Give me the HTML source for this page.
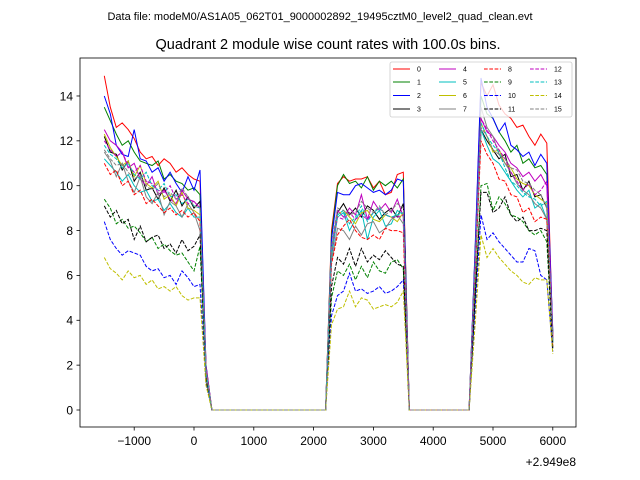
<!DOCTYPE html>
<html><head><meta charset="utf-8">
<style>
html,body{margin:0;padding:0;background:#fff;}
svg{display:block;font-family:"Liberation Sans","DejaVu Sans",sans-serif;}
</style></head>
<body>
<svg id="chart" width="640" height="480" viewBox="0 0 640 480">
<text x="320" y="20" font-size="11" text-anchor="middle">Data file: modeM0/AS1A05_062T01_9000002892_19495cztM0_level2_quad_clean.evt</text>
<text x="328" y="49" font-size="14.5" text-anchor="middle">Quadrant 2 module wise count rates with 100.0s bins.</text>
<g id="series"></g>
<rect x="80" y="58" width="496" height="369" fill="none" stroke="#000" stroke-width="0.8"/>
<g id="xaxis"></g>
<g id="yaxis"></g>
<text x="576" y="466" font-size="12" text-anchor="end">+2.949e8</text>
<g id="legend"></g>
</svg>
<script>
const Z20=[0,0,0,0,0,0,0,0,0,0,0,0,0,0,0,0,0,0,0,0];
const Z11=[0,0,0,0,0,0,0,0,0,0,0];
const xTicks=[-1000,0,1000,2000,3000,4000,5000,6000];
const xTickLabels=["\u22121000","0","1000","2000","3000","4000","5000","6000"];
const yTicks=[0,2,4,6,8,10,12,14];
const seriesNames=["0","1","2","3","4","5","6","7","8","9","10","11","12","13","14","15"];
const colors=["#ff0000","#008000","#0000ff","#000000","#bf00bf","#00bfbf","#bfbf00","#808080","#ff0000","#008000","#0000ff","#000000","#bf00bf","#00bfbf","#bfbf00","#808080"];
const seg1=[
[14.9,13.5,12.6,12.8,12.5,12.1,11.5,11.2,11.3,10.9,11.2,11.0,10.6,10.8,10.5,10.3,10.2],
[13.5,12.9,12.3,11.8,12.0,11.5,11.1,11.0,10.9,11.1,10.3,10.5,10.2,10.1,9.8,9.9,9.6],
[14.0,13.2,11.8,11.4,11.3,12.5,11.2,11.1,10.6,10.8,10.2,10.6,10.1,9.7,10.4,9.8,10.7],
[12.2,11.5,11.4,10.7,11.1,10.2,10.6,9.8,9.9,9.4,9.9,9.3,9.8,9.1,9.5,9.0,9.3],
[12.5,12.0,11.8,11.5,10.8,11.0,10.3,10.0,10.4,9.6,9.8,9.4,9.2,9.8,9.4,9.3,9.0],
[11.2,10.9,10.6,10.2,10.5,10.0,9.7,9.8,9.3,9.4,8.9,9.2,8.8,8.6,9.0,8.6,8.6],
[12.3,11.7,11.3,10.9,11.1,10.4,10.9,10.1,9.9,10.2,9.4,9.6,9.1,9.7,9.0,8.9,8.7],
[11.5,11.1,10.4,11.0,10.2,9.7,10.4,9.5,9.2,9.7,8.7,9.3,9.1,8.6,9.2,8.8,8.0],
[11.0,10.5,10.7,10.0,10.2,9.6,9.8,9.2,9.4,9.1,8.8,9.0,8.7,8.9,8.6,8.8,8.4],
[9.4,9.0,8.3,8.5,8.1,8.2,7.9,7.5,7.7,7.2,7.4,7.1,6.9,7.0,6.6,6.2,7.3],
[8.4,7.6,7.2,6.9,7.1,7.0,6.9,6.4,6.2,6.3,5.9,6.0,5.6,6.2,5.9,5.5,5.6],
[9.1,8.6,8.9,8.3,8.5,7.6,8.2,7.5,7.7,7.8,7.2,7.4,7.0,7.6,7.1,7.3,7.8],
[12.0,11.6,11.3,11.5,10.9,10.6,10.9,10.2,10.1,9.8,9.7,10.0,9.4,9.6,9.2,9.3,9.0],
[11.8,11.4,11.2,10.8,11.0,10.5,10.3,10.6,10.0,9.8,10.1,9.5,9.6,9.2,9.4,9.1,9.0],
[6.8,6.3,6.1,5.8,6.2,5.9,6.0,5.6,5.8,5.4,5.5,5.3,5.5,5.1,4.9,5.0,5.0],
[11.6,11.2,10.9,11.0,10.6,10.3,10.5,10.0,9.8,10.1,9.5,9.7,9.4,9.9,9.5,9.1,9.0]];
const v200=[2.0,1.8,2.0,1.6,1.9,1.7,1.8,1.6,1.7,1.3,1.2,1.4,1.8,1.7,1.1,1.7];
const seg2=[
[8.0,10.1,10.4,10.2,10.3,10.3,10.4,9.9,10.2,9.6,9.7,10.5,10.6],
[7.8,10.0,10.5,10.1,10.2,9.9,10.4,9.8,10.2,10.0,10.2,9.9,10.3],
[7.6,9.7,9.6,9.6,10.0,10.1,9.9,9.7,9.8,9.6,9.8,10.3,10.2],
[7.0,8.8,9.2,8.7,9.0,8.6,9.1,8.9,8.5,8.8,9.0,8.6,9.2],
[7.2,8.9,8.6,9.0,8.7,9.6,8.5,9.3,8.9,9.2,8.8,9.4,8.6],
[6.8,8.6,8.8,8.0,8.5,8.9,7.6,8.6,8.9,8.2,8.3,8.9,8.7],
[7.0,8.7,8.9,8.6,8.3,8.8,8.9,8.5,8.4,8.7,8.6,8.4,8.8],
[6.6,8.1,8.0,7.6,8.2,7.8,8.3,8.4,7.9,8.1,8.5,8.7,8.3],
[6.5,7.8,8.2,8.5,8.0,7.7,7.6,7.8,7.6,8.1,8.0,8.0,7.9],
[5.0,6.2,6.0,6.5,5.8,6.4,5.9,6.6,6.2,6.1,6.6,6.7,6.3],
[4.2,5.1,5.3,6.1,5.3,5.4,5.2,5.3,5.5,5.2,5.3,5.5,5.8],
[5.5,6.8,6.5,7.2,6.4,7.2,6.6,6.9,6.7,7.1,6.8,6.5,6.4],
[7.0,8.6,8.5,8.8,8.5,8.7,8.5,8.8,9.0,8.7,8.6,8.6,8.7],
[7.1,8.7,8.9,8.3,8.6,9.1,8.4,8.8,9.0,8.7,8.6,8.7,8.8],
[3.8,4.5,4.6,5.3,4.6,5.0,4.9,4.5,4.6,4.7,4.6,4.8,5.3],
[7.3,9.0,8.9,8.7,8.8,9.3,9.0,8.8,9.1,8.7,8.9,9.2,9.0]];
const seg3=[
[7.0,14.6,14.0,14.5,13.6,13.2,13.0,12.6,12.7,12.2,11.8,12.3,11.9,3.2],
[7.0,14.0,13.2,13.0,12.4,12.0,11.5,11.8,11.0,11.2,10.8,10.9,10.5,3.4],
[7.2,14.8,13.5,13.0,12.4,12.8,11.8,11.6,11.3,11.5,10.9,11.4,11.0,3.5],
[6.0,12.5,12.0,11.6,11.2,11.4,10.4,10.5,9.8,10.2,9.5,9.6,9.0,3.0],
[6.4,13.0,12.4,12.2,11.8,11.5,11.0,10.8,10.4,10.6,10.2,10.5,10.0,3.3],
[6.2,12.5,11.8,11.2,11.0,10.6,10.2,9.8,9.5,9.8,9.0,9.2,8.5,3.0],
[6.3,12.8,12.2,11.5,11.6,11.0,10.8,10.3,10.1,10.0,9.6,9.4,9.2,3.1],
[6.6,13.5,12.6,12.2,11.4,11.0,10.6,10.1,9.8,9.6,9.2,9.0,8.5,3.1],
[6.0,12.0,11.4,11.0,10.3,10.2,9.6,9.5,8.8,9.0,8.4,8.6,8.5,2.8],
[5.0,10.0,10.1,8.9,9.5,9.2,8.7,8.6,8.4,8.0,7.8,8.0,7.5,2.7],
[4.5,8.7,7.6,7.9,7.5,7.2,6.9,6.6,6.6,7.2,7.1,6.0,5.8,2.6],
[5.0,9.7,9.7,8.8,9.0,9.5,8.7,8.4,8.6,8.0,8.0,8.1,8.0,2.7],
[6.5,13.0,12.5,12.0,11.6,11.2,10.6,10.2,9.8,10.1,9.6,9.8,10.2,3.2],
[6.4,12.8,12.2,11.8,11.5,10.8,10.2,10.0,9.7,9.5,9.4,9.1,9.3,3.1],
[3.8,7.8,6.8,7.2,6.8,6.5,6.2,6.0,5.7,5.6,5.9,5.8,5.8,2.5],
[6.3,12.6,12.2,11.6,11.4,11.2,10.8,10.7,10.2,10.1,9.8,9.6,9.0,3.0]];

const NS="http://www.w3.org/2000/svg";
function xs(t){return 194+(t)*0.0598;}
function ys(v){return 410-v*22.43;}
const times=[];
for(let t=-1500;t<=6000;t+=100)times.push(t);
const sg=document.getElementById('series');
for(let i=0;i<16;i++){
  const vals=seg1[i].concat([v200[i]],Z20,seg2[i],Z11,seg3[i]);
  const pts=vals.map((v,k)=>xs(times[k]).toFixed(1)+','+ys(v).toFixed(1)).join(' ');
  const pl=document.createElementNS(NS,'polyline');
  pl.setAttribute('points',pts);
  pl.setAttribute('fill','none');
  pl.setAttribute('stroke',colors[i]);
  pl.setAttribute('stroke-width','1');
  if(i>=8)pl.setAttribute('stroke-dasharray','3.7,1.6');
  
  
  sg.appendChild(pl);
}
const xa=document.getElementById('xaxis');
xTicks.forEach((t,k)=>{
  const x=xs(t);
  const l=document.createElementNS(NS,'line');
  l.setAttribute('x1',x);l.setAttribute('x2',x);l.setAttribute('y1',427);l.setAttribute('y2',430.5);
  l.setAttribute('stroke','#000');l.setAttribute('stroke-width','0.8');
  
  
  xa.appendChild(l);
  const tx=document.createElementNS(NS,'text');
  tx.setAttribute('x',x);tx.setAttribute('y',445);tx.setAttribute('font-size','12');tx.setAttribute('text-anchor','middle');
  tx.textContent=xTickLabels[k];
  
  
  xa.appendChild(tx);
});
const ya=document.getElementById('yaxis');
yTicks.forEach(v=>{
  const y=ys(v);
  const l=document.createElementNS(NS,'line');
  l.setAttribute('x1',76.5);l.setAttribute('x2',80);l.setAttribute('y1',y);l.setAttribute('y2',y);
  l.setAttribute('stroke','#000');l.setAttribute('stroke-width','0.8');
  
  
  ya.appendChild(l);
  const tx=document.createElementNS(NS,'text');
  tx.setAttribute('x',73);tx.setAttribute('y',y+4.3);tx.setAttribute('font-size','12');tx.setAttribute('text-anchor','end');
  tx.textContent=String(v);
  
  
  ya.appendChild(tx);
});
const lg=document.getElementById('legend');
const box=document.createElementNS(NS,'rect');
box.setAttribute('x',390);box.setAttribute('y',62);box.setAttribute('width',182);box.setAttribute('height',55);
box.setAttribute('rx',2);box.setAttribute('fill','#fff');box.setAttribute('fill-opacity','0.8');
box.setAttribute('stroke','#ccc');box.setAttribute('stroke-width','0.8');


lg.appendChild(box);
const colX=[393,439,484,530];
const rowY=[69,82,95.5,109];
for(let i=0;i<16;i++){
  const c=Math.floor(i/4),r=i%4;
  const l=document.createElementNS(NS,'line');
  l.setAttribute('x1',colX[c]);l.setAttribute('x2',colX[c]+17);l.setAttribute('y1',rowY[r]);l.setAttribute('y2',rowY[r]);
  l.setAttribute('stroke',colors[i]);l.setAttribute('stroke-width','1');
  if(i>=8)l.setAttribute('stroke-dasharray','3.7,1.6');
  
  
  lg.appendChild(l);
  const tx=document.createElementNS(NS,'text');
  tx.setAttribute('x',colX[c]+24);tx.setAttribute('y',rowY[r]+2.5);tx.setAttribute('font-size','7');
  tx.textContent=seriesNames[i];
  
  
  lg.appendChild(tx);
}
</script>
</body></html>
